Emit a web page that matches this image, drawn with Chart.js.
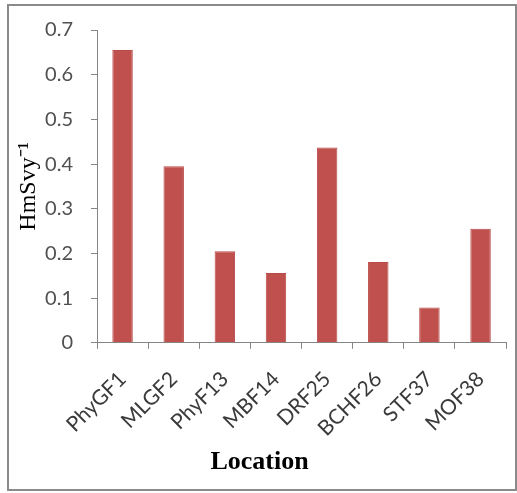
<!DOCTYPE html>
<html>
<head>
<meta charset="utf-8">
<script src="https://cdn.jsdelivr.net/npm/chart.js@4/dist/chart.umd.min.js"></script>
<style>
  html, body { margin: 0; padding: 0; background: #fff; }
  #wrap { position: relative; width: 517px; height: 493px; }
  #frame {
    position: absolute; left: 7px; top: 4px; width: 510px; height: 487px;
    box-sizing: border-box; border: 2px solid #8a8a8a; pointer-events: none;
  }
  canvas { position: absolute; left: 0; top: 0; }
</style>
</head>
<body>
<div id="wrap">
  <canvas id="doseChart" width="517" height="493"></canvas>
  <div id="frame"></div>
</div>
<script>
// dữ liệu
const locations = ['PhyGF1', 'MLGF2', 'PhyF13', 'MBF14', 'DRF25', 'BCHF26', 'STF37', 'MOF38'];
const doseValues = [0.655, 0.395, 0.205, 0.156, 0.437, 0.181, 0.079, 0.255];
const yTicks = [0, 0.1, 0.2, 0.3, 0.4, 0.5, 0.6, 0.7];

const axisColor = '#868686';

const ctx = document.getElementById('doseChart');

new Chart(ctx.getContext('2d'), {
  type: 'bar',
  data: {
    labels: locations,
    datasets: [{
      data: doseValues,
      backgroundColor: '#C0504D',
      borderColor: '#B84A47',
      borderWidth: 1,
      categoryPercentage: 1,
      barPercentage: 0.4
    }]
  },
  options: {
    responsive: false,
    animation: false,
    layout: {
      padding: { left: 12, top: 29, right: 10, bottom: 15 }
    },
    scales: {
      x: {
        grid: {
          drawOnChartArea: false,
          drawTicks: true,
          tickLength: 6,
          color: axisColor,
          offset: true
        },
        border: { color: axisColor, width: 1 },
        ticks: {
          color: '#3a3a3a',
          font: { family: 'Lato', size: 21 },
          minRotation: 45,
          maxRotation: 45,
          padding: 18
        },
        afterFit: function(scale) {
          scale.height = 104;
        }
      },
      y: {
        min: 0,
        max: 0.7,
        afterBuildTicks: function(scale) {
          scale.ticks = yTicks.map(v => ({ value: v }));
        },
        grid: {
          drawOnChartArea: false,
          drawTicks: true,
          tickLength: 6,
          color: axisColor
        },
        border: { color: axisColor, width: 1 },
        ticks: {
          color: '#505050',
          font: { family: 'Lato', size: 20 },
          padding: 18,
          callback: function(value) {
            return value === 0 ? '0' : value.toFixed(1);
          }
        },
        title: {
          display: true,
          text: 'HmSvy⁻¹',
          color: '#000',
          font: { family: 'Liberation Serif', size: 24 },
          padding: { top: 2, bottom: 0 }
        },
        afterFit: function(scale) {
          scale.width = 85;
        }
      }
    },
    plugins: {
      legend: { display: false },
      tooltip: { enabled: false },
      title: {
        display: true,
        position: 'bottom',
        text: 'Location',
        color: '#000',
        font: { family: 'Liberation Serif', size: 26, weight: 'bold' },
        padding: 0
      }
    }
  }
});
</script>
</body>
</html>
